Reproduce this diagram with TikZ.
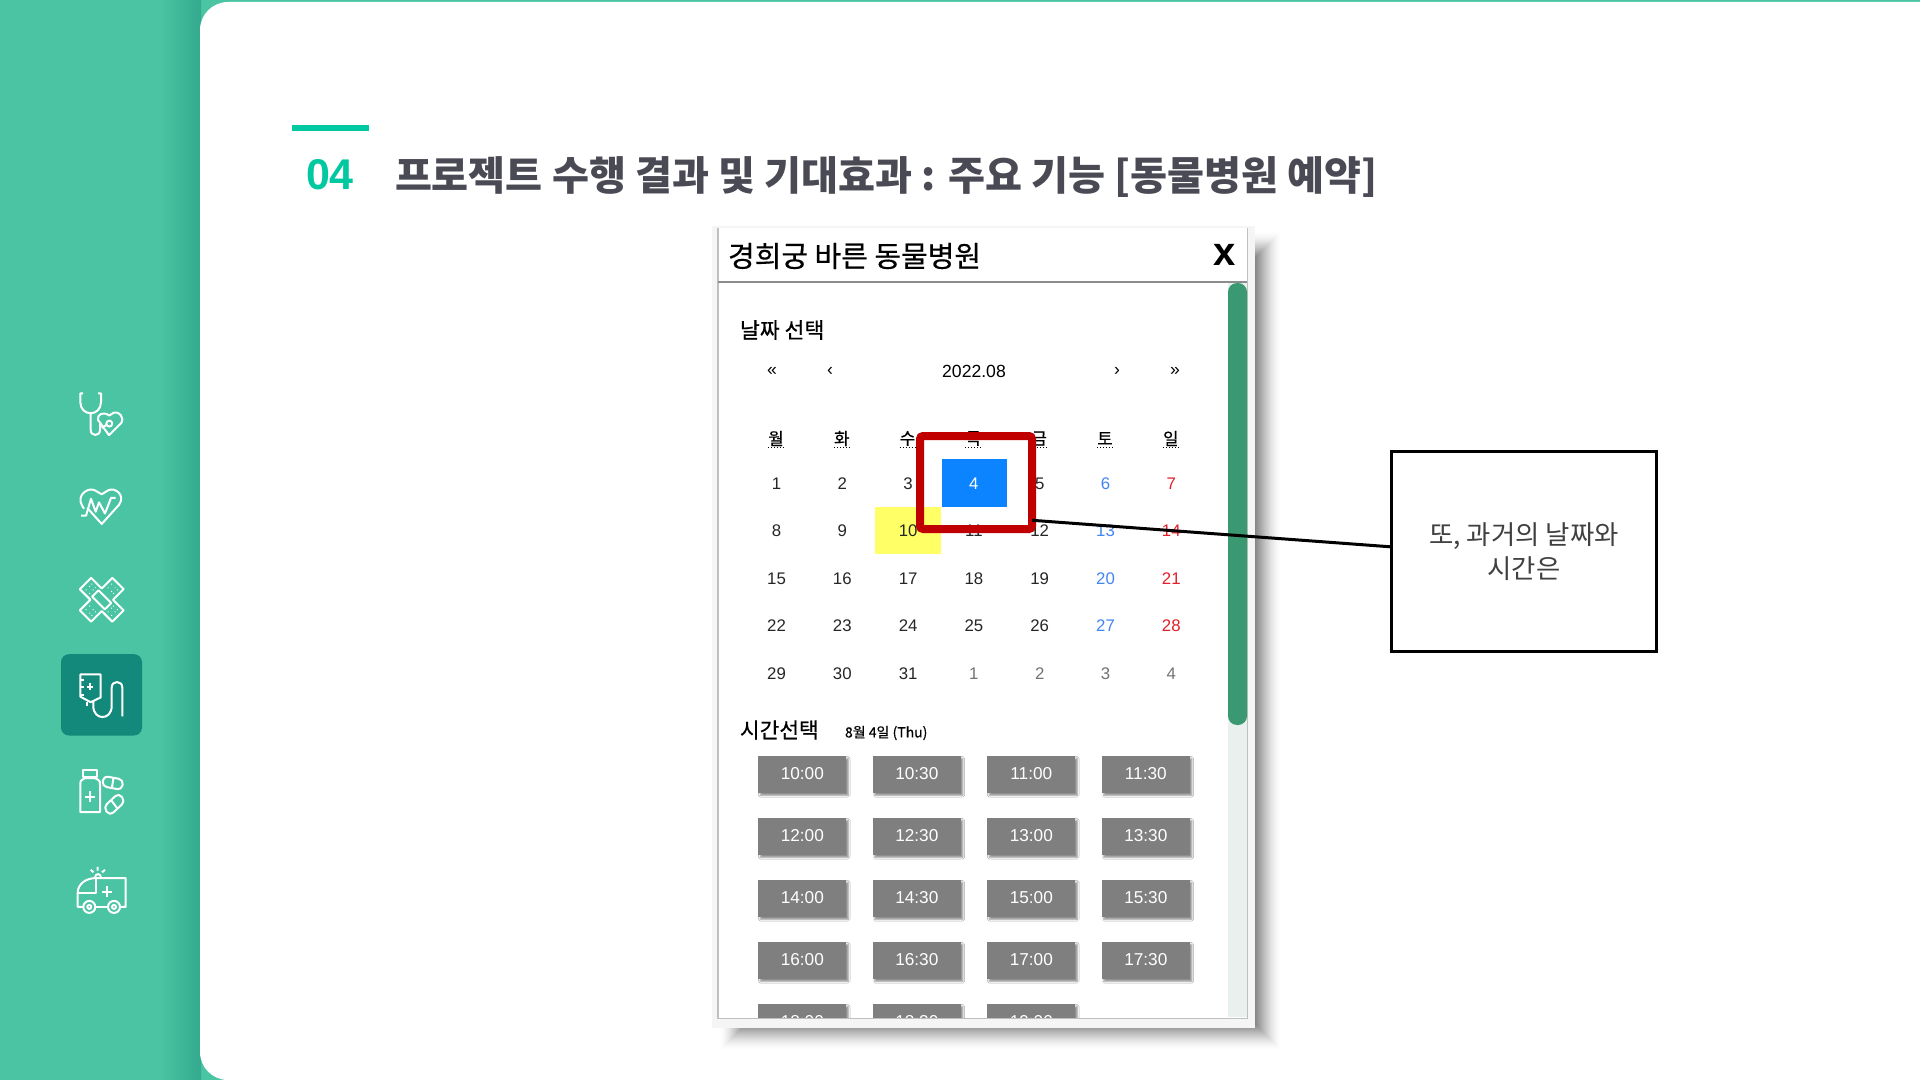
\documentclass[tikz,border=0pt]{standalone}
\usepackage{fontspec}
\setmainfont{Liberation Sans}
\newfontfamily\krfont{Noto Sans CJK KR}
\newfontfamily\krmid[FakeBold=0.5]{Noto Sans CJK KR}
\usetikzlibrary{shadows,shadows.blur}
\definecolor{sidebar}{HTML}{4AC4A3}
\definecolor{sidedark}{HTML}{33A98E}
\definecolor{selbox}{HTML}{12897B}
\definecolor{accent}{HTML}{00C8A0}
\definecolor{headtext}{HTML}{4A4A55}
\definecolor{thumb}{HTML}{3A9970}
\definecolor{track}{HTML}{E8F1EE}
\definecolor{picked}{HTML}{0D84FF}
\definecolor{today}{HTML}{FFFF66}
\definecolor{markred}{HTML}{C00000}
\definecolor{satblue}{HTML}{4285F4}
\definecolor{sunred}{HTML}{E0202A}
\definecolor{btn}{HTML}{7F7F7F}
\tikzset{
    icon/.style={draw=white,line width=1pt,line join=round},
    plain/.style={inner sep=0pt,outer sep=0pt},
    krtext/.style={plain,font=\krfont\fontsize{#1}{#1}\selectfont},
    krmedium/.style={plain,font=\krmid\fontsize{#1}{#1}\selectfont},
    krbold/.style={plain,font=\krfont\bfseries\fontsize{#1}{#1}\selectfont},
    datecell/.style={plain,font=\fontsize{8.4}{8.4}\selectfont},
    daycell/.style={plain,font=\krmid\fontsize{8.4}{8.4}\selectfont},
    navcell/.style={plain,font=\fontsize{8.8}{8.8}\selectfont},
    timebtn/.style={plain,fill=btn,text=white,minimum width=44pt,minimum height=18.5pt,
        font=\fontsize{8.6}{8.6}\selectfont,
        blur shadow={shadow xshift=1pt,shadow yshift=-1.4pt,shadow blur radius=.9pt,shadow opacity=45}},
}
\begin{document}
\begin{tikzpicture}[x=0.5pt,y=-0.5pt]
    \useasboundingbox (0,0) rectangle (1920,1080);
    \fill[sidebar] (0,0) rectangle (1920,1080);
    \shade[left color=sidebar,right color=sidedark] (160,0) rectangle (201,1080);
    \fill[white,rounded corners=14pt] (1920,2) -- (200,2) -- (200,1080) -- (1920,1080);

    \begin{scope}[shift={(0,360)},yscale=1.11,shift={(0,-360)}]
    \fill[selbox,rounded corners=4pt] (61,625) rectangle (142,698.3);

    % stethoscope
    \draw[icon] (83,390) -- (80.3,390) -- (80.3,398) .. controls (80.3,404) and (85,408) .. (90.7,408)
        .. controls (96,408) and (101,404) .. (101,398) -- (101,390) -- (98,390);
    \draw[icon] (90.7,408) -- (90.7,423) .. controls (90.7,429) and (100,429) .. (100,423) -- (100,416);
    \draw[icon] (109,427.7) -- (121,417) .. controls (125,412) and (119,406) .. (114,407.3)
        .. controls (111.5,407.8) .. (109.3,410) .. controls (103,406) and (97,409) .. (98,414) -- cycle;
    \draw[icon] (109.3,417.3) circle [x radius=3,y radius=2.7];
    \draw[icon] (106.5,418.5) -- (101.7,421);
    % heart
    \draw[icon] (87.3,493.3) -- (101.7,507.7) -- (119,490.5) .. controls (126,482) and (115,474) .. (108,477.5)
        .. controls (105,479) .. (101.7,481) .. controls (98,479) .. (95,477.5)
        .. controls (88,474) and (76,482) .. (82,491) -- (84,494);
    \draw[icon] (81,500.3) -- (86,500.3) -- (91,485) -- (95.7,496.7) -- (99,488.3) -- (105,498.3) -- (111,484.3) -- (115.7,484.3);
    % plasters
    \begin{scope}[shift={(101.7,576)},yscale=.9,rotate=45]
        \draw[icon] (-23,-8) -- (-8,-8) -- (-8,-23) -- (8,-23) -- (8,-8) -- (23,-8) -- (23,8) -- (8,8) -- (8,23) -- (-8,23) -- (-8,8) -- (-23,8) -- cycle;
        \draw[icon] (-4.5,-9) rectangle (4.5,9);
        \foreach \a in {13,18}
            \foreach \b in {-4,1,4}{
                \fill[white] (\a,\b) circle (.7);
                \fill[white] (-\a,\b) circle (.7);
                \fill[white] (\b,\a) circle (.7);
                \fill[white] (\b,-\a) circle (.7);
            }
    \end{scope}
    % drip bag
    \draw[icon] (80.3,643.3) -- (100.7,643.3) -- (100.7,664) -- (90.7,668.3) -- (80.3,663.3) -- cycle;
    \foreach \y in {648,655,662}
        \draw[icon] (80.3,\y) -- (83.5,\y);
    \draw[icon] (87,654.3) -- (93,654.3) (90,651.3) -- (90,657.3);
    \draw[icon] (87.3,668) -- (87.3,672);
    \draw[icon] (93.3,667) -- (93.3,671.7) .. controls (93.3,685) and (111.7,685) .. (111.7,671.7) -- (111.7,655)
        .. controls (111.7,648.5) and (122.3,648.5) .. (122.3,655) -- (122.3,681);
    % bottle and pills
    \draw[icon] (83.3,729) rectangle (96.7,736);
    \draw[icon] (80.3,767.3) -- (80.3,743.3) .. controls (80.3,739) .. (85,736.7) -- (95,736.7)
        .. controls (100,739) .. (100,743.3) -- (100,767.3) -- cycle;
    \draw[icon] (85,753.3) -- (95,753.3) (90,748.3) -- (90,758.3);
    \begin{scope}[shift={(112.7,741)},rotate=-10]
        \draw[icon,rounded corners=2.3pt] (-10,-4.7) rectangle (10,4.7);
        \draw[icon] (0,-4.7) -- (0,4.7);
    \end{scope}
    \begin{scope}[shift={(114.3,760.3)},rotate=40]
        \draw[icon,rounded corners=2.3pt] (-10,-5) rectangle (10,5);
        \draw[icon] (0,-5) -- (0,5);
    \end{scope}
    % ambulance
    \draw[icon] (83,852.7) -- (77.7,852.7) -- (77.7,840) .. controls (77.7,832) and (86,826.7) .. (96,826.7)
        -- (125.7,826.7) -- (125.7,852.7) -- (120,852.7);
    \draw[icon] (96,826.7) -- (96,840) -- (77.7,840);
    \draw[icon] (95.5,852.7) -- (107.8,852.7);
    \foreach \x in {89.3,114}{
        \draw[icon] (\x,852.7) circle [x radius=6,y radius=5.4];
        \draw[icon] (\x,852.7) circle [x radius=2,y radius=1.8];
    }
    \draw[icon] (101.7,839) -- (111.7,839) (106.7,834) -- (106.7,844);
    \draw[icon] (95,826.5) .. controls (95,822) and (101,822) .. (101,826.5);
    \draw[icon] (97.7,816.7) -- (97.7,820) (90.7,819.3) -- (93.5,821.5) (105,819.3) -- (102,821.5);
    \end{scope}

    % heading
    \fill[accent] (292,125) rectangle (369,131);
    \node[plain,text=accent,font=\bfseries\fontsize{21.5}{21.5}\selectfont] (secnum) at (330,175) {04};
    \node[krbold=20.1,text=headtext,anchor=west] (sectitle) at (395,177) {프로젝트 수행 결과 및 기대효과 : 주요 기능 [동물병원 예약]};

    % popup
    \foreach \i in {0,...,25}
        \fill[black,opacity={.004+.0015*\i}] ({720+\i},{232+\i}) rectangle ({1281-\i},{1050-\i});
    \fill[white!96!black] (712,226) rectangle (1255,1028);
    \fill[white] (718,228) rectangle (1247,1018);
    \draw[black!25,line width=.8pt] (718,228) -- (718,1018.5) -- (1247.5,1018.5) -- (1247.5,228);
    \draw[black!45,line width=.7pt] (718,282) -- (1247,282);
    \fill[track] (1228,283) rectangle (1247,1017);
    \fill[thumb,rounded corners=4.5pt] (1228,283) rectangle (1247,725);

    \node[krmedium=14.5,anchor=west] (hospital) at (728,256) {경희궁 바른 동물병원};
    \node[plain,font=\bfseries\fontsize{20}{20}\selectfont] (closex) at (1225,255) {x};
    \node[krmedium=10.8,anchor=west] (datehead) at (740,330) {날짜 선택};

    \node[navcell] (prevyear) at (772,371) {«};
    \node[navcell] (prevmonth) at (830,371) {‹};
    \node[navcell] (month) at (974,371) {2022.08};
    \node[navcell] (nextmonth) at (1117,371) {›};
    \node[navcell] (nextyear) at (1175,371) {»};

    \fill[picked] (942,459) rectangle (1007,507);
    \fill[today] (875,507) rectangle (941,554);

    \foreach \lab [count=\n from 0] in {월,화,수,목,금,토,일}{
        \node[daycell] (wd\n) at ({776+65.8*\n},438.5) {\lab};
        \draw[black,line width=.5pt,densely dotted] ({768+65.8*\n},447.5) -- ({784+65.8*\n},447.5);
    }

    \foreach \lab [count=\n from 0] in {1,...,31,1,2,3,4}{
        \pgfmathtruncatemacro\col{mod(\n,7)}
        \pgfmathtruncatemacro\row{\n/7}
        \def\tone{black!85}
        \ifnum\col=5 \def\tone{satblue}\fi
        \ifnum\col=6 \def\tone{sunred}\fi
        \ifnum\n>30 \def\tone{black!55}\fi
        \ifnum\n=3 \def\tone{white}\fi
        \node[datecell,text=\tone] (day\n) at ({776.5+65.8*\col},{483.5+47.5*\row}) {\lab};
    }

    \node[krmedium=10.7,anchor=west] (timehead) at (740,730) {시간선택};
    \node[krmedium=7,anchor=west] (timeday) at (845,733) {8월 4일 (Thu)};

    \begin{scope}
        \clip (718,740) rectangle (1228,1017);
        \foreach \lab [count=\n from 0] in {10:00,10:30,11:00,11:30,12:00,12:30,13:00,13:30,14:00,14:30,15:00,15:30,16:00,16:30,17:00,17:30,18:00,18:30,19:00}{
            \pgfmathtruncatemacro\col{mod(\n,4)}
            \pgfmathtruncatemacro\row{\n/4}
            \node[timebtn] (slot\n) at ({802.3+114.5*\col},{774+62*\row}) {\lab};
        }
    \end{scope}

    % marker and note
    \node[plain,draw=markred,line width=4pt,rounded corners=1.5pt,minimum width=56pt,minimum height=46.5pt] (mark) at (976,482.5) {};
    \node[krtext=13.2,text=black!75,draw=black,line width=1.5pt,minimum width=132.5pt,minimum height=100pt,align=center] (note) at (1524,551.5) {또, 과거의 날짜와\\[2.3pt]시간은};
    \draw[black,line width=1.5pt] (mark.-34) -- (note.178);
\end{tikzpicture}
\end{document}
